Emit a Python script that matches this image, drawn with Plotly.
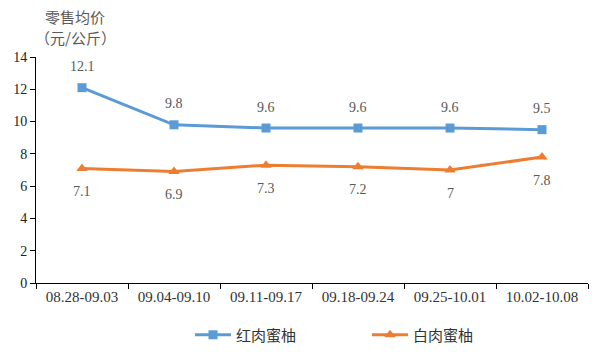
import plotly.graph_objects as go

categories = ["08.28-09.03", "09.04-09.10", "09.11-09.17", "09.18-09.24", "09.25-10.01", "10.02-10.08"]
red_pomelo = [12.1, 9.8, 9.6, 9.6, 9.6, 9.5]
white_pomelo = [7.1, 6.9, 7.3, 7.2, 7.0, 7.8]
red_labels = ["12.1", "9.8", "9.6", "9.6", "9.6", "9.5"]
white_labels = ["7.1", "6.9", "7.3", "7.2", "7", "7.8"]

serif = "Liberation Serif, Times New Roman, serif"
cjk = "Noto Sans CJK SC"

fig = go.Figure()
fig.add_trace(go.Scatter(
    x=categories, y=red_pomelo, name="红肉蜜柚", mode="lines+markers",
    line=dict(color="#5B9BD5", width=3),
    marker=dict(symbol="square", size=9, color="#5B9BD5"),
))
fig.add_trace(go.Scatter(
    x=categories, y=white_pomelo, name="白肉蜜柚", mode="lines+markers",
    line=dict(color="#ED7D31", width=3),
    marker=dict(symbol="triangle-up", size=10, color="#ED7D31"),
))

annotations = []
for c, v, t in zip(categories, red_pomelo, red_labels):
    annotations.append(dict(x=c, y=v, text=t, showarrow=False, yshift=21,
                            font=dict(family=serif, size=14, color="#595959")))
for c, v, t in zip(categories, white_pomelo, white_labels):
    annotations.append(dict(x=c, y=v, text=t, showarrow=False, yshift=-23,
                            font=dict(family=serif, size=14, color="#595959")))
annotations.append(dict(text="零售均价", x=(75 - 36) / 552, y=1 + (57 - 16) / 226,
                        xref="paper", yref="paper", xanchor="center", yanchor="middle",
                        showarrow=False, font=dict(family=cjk, size=15, color="#595959")))
annotations.append(dict(text="（元/公斤）", x=(75 - 36) / 552, y=1 + (57 - 37) / 226,
                        xref="paper", yref="paper", xanchor="center", yanchor="middle",
                        showarrow=False, font=dict(family=cjk, size=15, color="#595959")))

fig.update_layout(
    width=600, height=352,
    margin=dict(l=36, r=12, t=57, b=69, autoexpand=False),
    paper_bgcolor="white", plot_bgcolor="white",
    showlegend=True,
    legend=dict(orientation="h", x=190 / 600, xanchor="left", xref="container",
                y=(352 - 335) / 352, yanchor="middle", yref="container",
                font=dict(family=cjk, size=15, color="#333333"),
                itemwidth=36, entrywidth=126, entrywidthmode="pixels",
                traceorder="normal"),
    xaxis=dict(
        type="category", showgrid=False, showline=True, linecolor="black", linewidth=1,
        ticks="outside", tickson="boundaries", ticklen=5, tickcolor="black",
        tickfont=dict(family=serif, size=15, color="#333333"),
        range=[-0.5, 5.5],
    ),
    yaxis=dict(
        range=[0, 14], dtick=2, showgrid=False, showline=True, linecolor="black", linewidth=1,
        ticks="outside", ticklen=5, tickcolor="black", zeroline=False,
        tickfont=dict(family=serif, size=14, color="#222222"),
    ),
    annotations=annotations,
)
fig.write_html("out.html")
